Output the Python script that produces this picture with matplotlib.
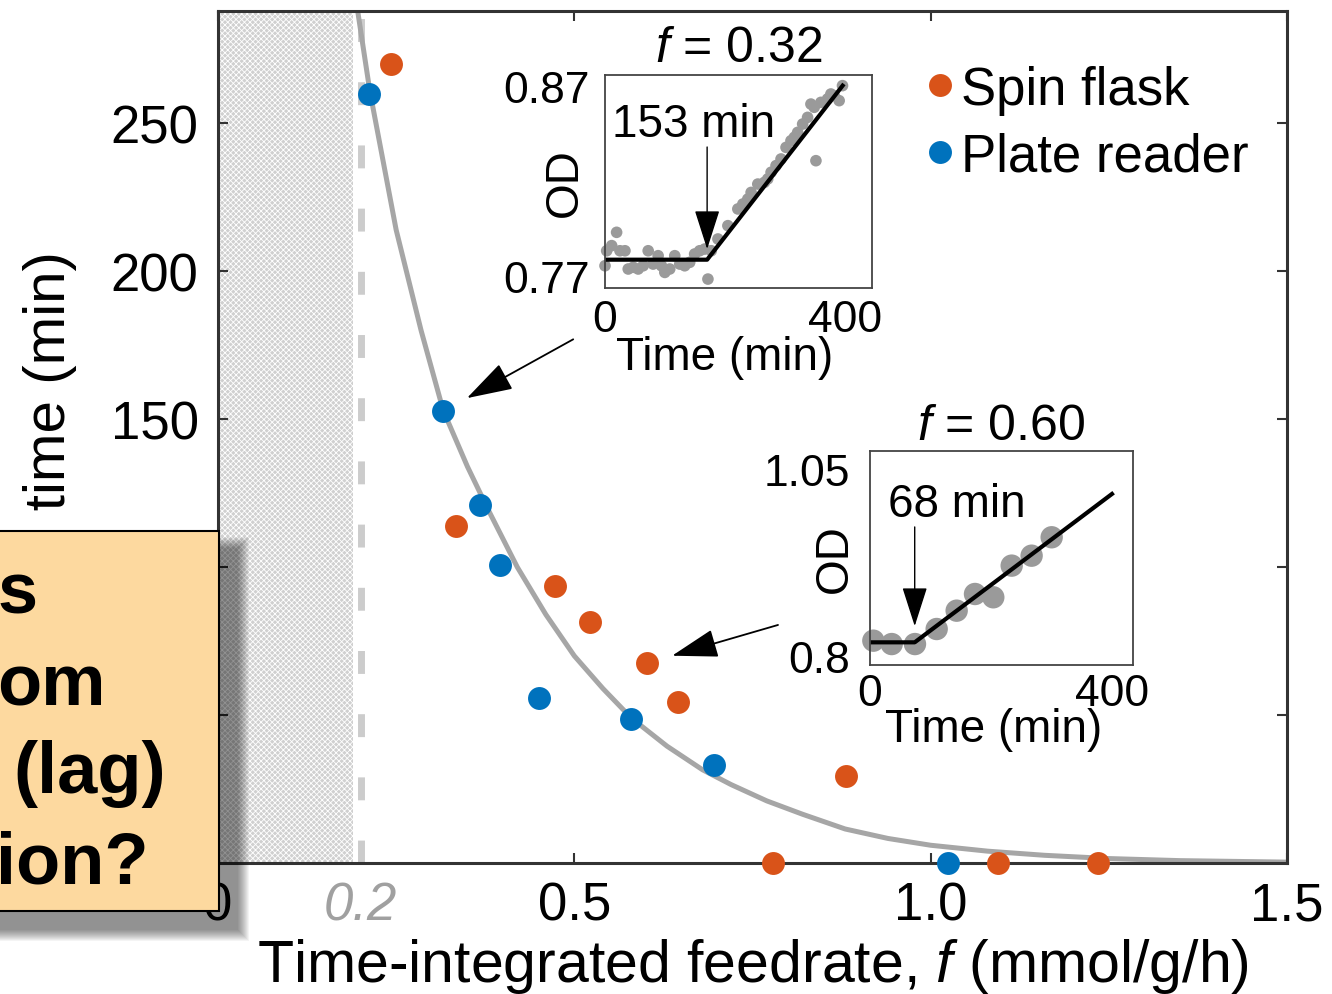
import numpy as np
import matplotlib
matplotlib.use("Agg")
import matplotlib.pyplot as plt
from matplotlib.patches import Rectangle
from matplotlib.transforms import ScaledTranslation

plt.rcParams['font.family'] = ['Liberation Sans', 'DejaVu Sans']
plt.rcParams['mathtext.fontset'] = 'custom'
plt.rcParams['mathtext.rm'] = 'Liberation Sans'
plt.rcParams['mathtext.it'] = 'Liberation Sans:italic'
plt.rcParams['hatch.linewidth'] = 0.6

# main panel: lag time (min) vs time-integrated feedrate f (mmol/g/h)
spin_f = [0.243, 0.334, 0.473, 0.522, 0.602, 0.645, 0.881, 0.779, 1.094, 1.235]
spin_lag = [270, 114, 93.6, 81.4, 67.6, 54.4, 29.4, 0, 0, 0]
plate_f = [0.212, 0.316, 0.368, 0.396, 0.450, 0.579, 0.696, 1.024]
plate_lag = [260, 152.7, 121, 100.7, 55.7, 48.6, 33.1, 0]

# grey fitted curve
fit_f = [0.196, 0.213, 0.25, 0.285, 0.316, 0.35, 0.38, 0.42, 0.46, 0.50, 0.54, 0.58, 0.63,
         0.68, 0.72, 0.77, 0.82, 0.88, 0.94, 1.00, 1.08, 1.16, 1.25, 1.35, 1.50]
fit_lag = [288, 261, 214, 180, 153, 134, 119, 100, 84, 70, 59, 49, 39.5,
           31.5, 26.5, 21, 16.5, 11.5, 8.3, 6, 4, 2.6, 1.5, 0.8, 0.3]
f_min = 0.2

# inset f = 0.32 (plate reader, lag 153 min)
in1_t = [0, 2.5, 10, 17.4, 22.4, 29.9, 34.8, 42.3, 49.7, 57.2, 64.7, 72.1, 79.6, 84.6, 89.6,
         97.0, 104.5, 112, 119.4, 126.9, 134.3, 141.8, 149.3, 154.2, 159.2,
         169.2, 184.1, 199.0, 206.5, 213.9, 218.9, 228.9, 238.8, 243.8, 248.8, 256.2, 263.7,
         271.2, 278.6, 283.6, 288.6, 296.1, 303.5, 308.5, 313.4, 316.0, 323.4, 333.4, 338.4,
         343.3, 350.8, 355.8]
in1_od = [0.7754, 0.7833, 0.7860, 0.7930, 0.7833, 0.7833, 0.7737, 0.7746, 0.7737, 0.7754,
          0.7833, 0.7763, 0.7807, 0.7754, 0.7719, 0.7737, 0.7807, 0.7763, 0.7754, 0.7772,
          0.7816, 0.7833, 0.7842, 0.7684, 0.7833,
          0.7895, 0.7965, 0.8053, 0.8079, 0.8105, 0.8140, 0.8184, 0.8193, 0.8211, 0.8246,
          0.8281, 0.8316, 0.8377, 0.8412, 0.8430, 0.8456, 0.8500, 0.8535, 0.8605, 0.8588,
          0.8307, 0.8614, 0.8632, 0.8658, 0.8649, 0.8623, 0.8702]
in1_fit_t = [0, 153, 356]
in1_fit_od = [0.7786, 0.7786, 0.8702]

# inset f = 0.60 (spin flask, lag 68 min)
in2_t = [5.1, 33, 68.4, 101.4, 131.8, 159.7, 187.5, 215.5, 245.8, 276.3]
in2_od = [0.8205, 0.8160, 0.8160, 0.8361, 0.8606, 0.8829, 0.8785, 0.9208, 0.9341, 0.9587]
in2_fit_t = [0, 68, 368]
in2_fit_od = [0.8183, 0.8183, 1.0166]

orange = '#D95319'
blue = '#0072BD'

fig = plt.figure(figsize=(13.32, 9.95), dpi=100)
W, H = 1332, 995

ax = fig.add_axes([218 / W, 1 - 864 / H, 1069 / W, 852 / H])
ax.axvspan(0, 0.19, facecolor='#d0d0d0', edgecolor='white', hatch='xxxxxx', lw=0, zorder=0)
ax.plot([f_min, f_min], [0, 288], color='#cccccc', lw=5, dashes=(3.3, 5.8),
        dash_capstyle='butt', zorder=1)
ax.plot(fit_f, fit_lag, color='#a6a6a6', lw=3.6, zorder=2)
ax.plot(spin_f, spin_lag, 'o', color=orange, ms=16.5, mec='none', clip_on=False,
        zorder=4, label='Spin flask')
ax.plot(plate_f, plate_lag, 'o', color=blue, ms=16.5, mec='none', clip_on=False,
        zorder=4, label='Plate reader')

ax.set_xlim(0, 1.5)
ax.set_ylim(0, 288)
ax.set_xticks([0, 0.5, 1.0, 1.5])
ax.set_xticklabels(['0', '0.5', '1.0', '1.5'])
ax.set_yticks([50, 100, 150, 200, 250])
ax.tick_params(direction='in', length=7, width=1.5, top=True, right=True,
               labelsize=38, color='#333333')
ax.tick_params(axis='x', pad=12.5)
ax.tick_params(axis='y', pad=14)
for s in ax.spines.values():
    s.set_linewidth(2.2)
    s.set_color('#333333')

ax.set_xlabel('Time-integrated feedrate, $f$ (mmol/g/h)', fontsize=42.5)
ax.xaxis.set_label_coords(0.5, -0.086)
ax.set_ylabel('Lag time (min)', fontsize=42)
ax.yaxis.set_label_coords(-0.132, 0.5)

ax.text(f_min, 0, '0.2', transform=ax.get_xaxis_transform() + ScaledTranslation(0, -12.5 / 72, fig.dpi_scale_trans),
        ha='center', va='top', fontsize=38, color='#a0a0a0', style='italic')

ax.legend(loc='upper left', bbox_to_anchor=(0.6656, 0.937), frameon=False, fontsize=38,
          handlelength=0.4, handletextpad=0.2, labelspacing=0.32, borderpad=0,
          borderaxespad=0)

# arrows from insets to the points they show
arr = dict(arrowstyle='-|>,head_length=2.9,head_width=0.9', color='k', lw=1.3,
           shrinkA=0, mutation_scale=10)
ax.annotate('', xy=(plate_f[1], plate_lag[1]), xytext=(93.6, 51.8), textcoords='offset points',
            arrowprops=dict(arr, shrinkB=19.5))
ax.annotate('', xy=(spin_f[4], spin_lag[4]), xytext=(94.3, 27.4), textcoords='offset points',
            arrowprops=dict(arr, shrinkB=18.8))


def inset(rect, t, od, fit_t, fit_od, ylim, yticks, ylabs, title, lag, lag_txt, txt_pos,
          arrow_od, dot_s, shift400, ypad, xpad, tpad, xl_pos, yl_x):
    a = fig.add_axes(rect)
    a.scatter(t, od, s=dot_s, color='#9a9a9a', edgecolor='none', clip_on=False, zorder=1)
    a.plot(fit_t, fit_od, color='k', lw=3, zorder=2)
    a.set_xlim(0, 400)
    a.set_ylim(*ylim)
    a.set_xticks([0, 400])
    a.set_yticks(yticks)
    a.set_yticklabels(ylabs)
    a.tick_params(length=0, labelsize=32)
    a.tick_params(axis='y', pad=ypad)
    a.tick_params(axis='x', pad=xpad)
    lbl = a.get_xticklabels()[-1]
    lbl.set_transform(lbl.get_transform() + ScaledTranslation(shift400 / 100, 0, fig.dpi_scale_trans))
    for s in a.spines.values():
        s.set_linewidth(1.3)
        s.set_color('#444444')
    a.set_title(title, fontsize=36, pad=tpad)
    a.set_xlabel('Time (min)', fontsize=33)
    a.xaxis.set_label_coords(*xl_pos)
    a.set_ylabel('OD', fontsize=33)
    a.yaxis.set_label_coords(yl_x, 0.5)
    a.text(txt_pos[0], txt_pos[1], lag_txt, fontsize=33, ha='left', va='baseline')
    a.annotate('', xy=(lag, arrow_od[1]), xytext=(lag, arrow_od[0]),
               arrowprops=dict(arrowstyle='-|>,head_length=2.5,head_width=0.8', color='k',
                               lw=1.0, shrinkA=0, shrinkB=0, mutation_scale=10))
    return a


inset([605 / W, 1 - 289 / H, 267 / W, 213 / H], in1_t, in1_od, in1_fit_t, in1_fit_od,
      (0.7637, 0.8758), [0.77, 0.87], ['0.77', '0.87'], r'$f$ = 0.32', 153, '153 min',
      (10.4, 0.8437), (0.8379, 0.7842), 70, -27, 11, 8, 10, (0.449, -0.22), -0.067)
inset([870 / W, 1 - 666 / H, 263 / W, 214 / H], in2_t, in2_od, in2_fit_t, in2_fit_od,
      (0.788, 1.074), [0.8, 1.05], ['0.8', '1.05'], r'$f$ = 0.60', 68, '68 min',
      (27, 0.987), (0.9725, 0.840), 260, -21, 14.4, 6, 8.6, (0.471, -0.197), -0.049)

# slide call-out box overlapping the chart
ov = fig.add_axes([0, 0, 1, 1], zorder=20)
ov.set_xlim(0, W)
ov.set_ylim(H, 0)
ov.axis('off')
for b in range(12, 0, -1):
    ov.add_patch(Rectangle((-30 + 18 - b, 532 + 18 - b), 249 + 2 * b, 380 + 2 * b,
                           facecolor='k', alpha=0.045, lw=0))
ov.add_patch(Rectangle((-30, 532), 249, 380, facecolor='#FDD99F', edgecolor='black', lw=1.5))
box_lines = [('s', -2, 613), ('om', -3, 705), ('(lag)', 13, 793), ('ion?', -4, 883)]
for txt, x, y in box_lines:
    ov.text(x, y, txt, fontsize=52, fontweight='bold', ha='left', va='baseline')

fig.savefig('out.png', dpi=100)
